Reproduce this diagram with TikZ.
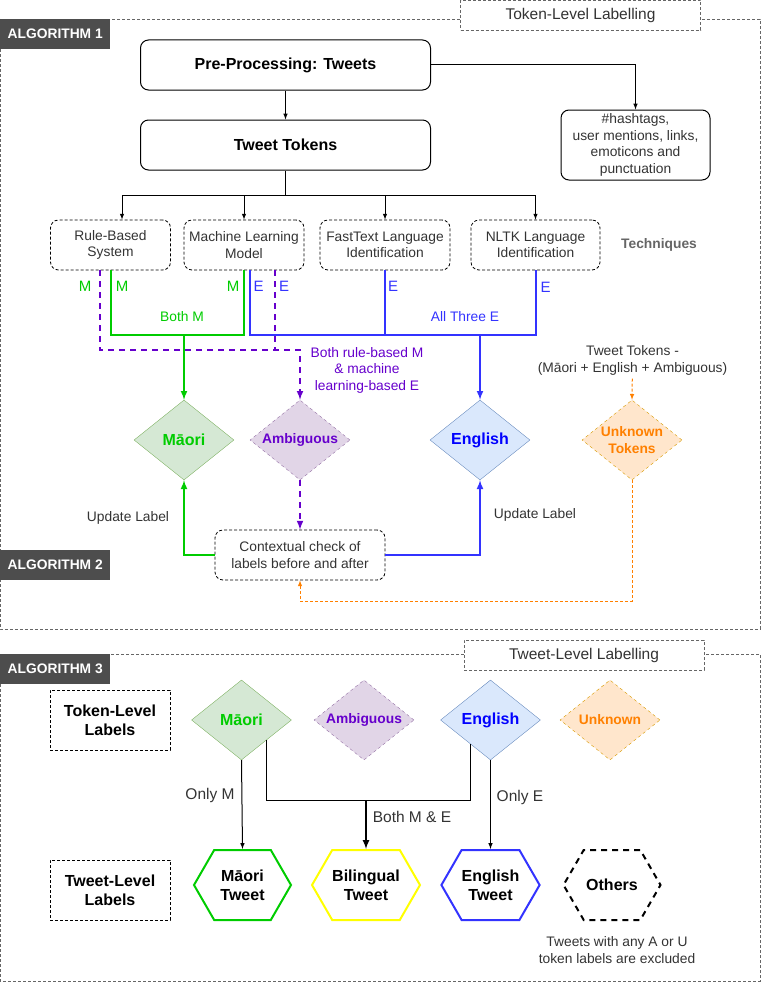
\documentclass[tikz,border=0pt]{standalone}
\usepackage{fontspec}
\setmainfont{Liberation Sans}
\usetikzlibrary{shapes.geometric,shapes.symbols,calc}
\definecolor{algogray}{HTML}{4D4D4D}
\definecolor{txtgray}{HTML}{333333}
\definecolor{framegray}{HTML}{666666}
\definecolor{mgreen}{HTML}{00CC00}
\definecolor{bblue}{HTML}{3333FF}
\definecolor{eblue}{HTML}{0000FF}
\definecolor{apurple}{HTML}{6600CC}
\definecolor{uorange}{HTML}{FF8000}
\definecolor{mfill}{HTML}{D5E8D4}
\definecolor{mdraw}{HTML}{82B366}
\definecolor{afill}{HTML}{E1D5E7}
\definecolor{adraw}{HTML}{9673A6}
\definecolor{efill}{HTML}{DAE8FC}
\definecolor{edraw}{HTML}{6C8EBF}
\definecolor{ufill}{HTML}{FFE6CC}
\definecolor{udraw}{HTML}{D79B00}
\definecolor{yline}{HTML}{FFFF00}
\tikzset{
  frame/.style={draw=framegray, dash pattern=on 3pt off 2pt, line width=0.8pt},
  titlebox/.style={draw=framegray, fill=white, dash pattern=on 3pt off 2pt, line width=0.8pt,
    minimum width=240pt, minimum height=30pt, font=\fontsize{15.5}{18}\selectfont},
  algo/.style={fill=algogray, text=white, anchor=north west, minimum width=110pt, minimum height=30pt,
    inner sep=0pt, font=\bfseries\fontsize{13.8}{16.5}\selectfont},
  proc/.style={draw, rounded corners=8pt, minimum width=290pt, minimum height=50pt, line width=1pt,
    text=black, font=\bfseries\fontsize{16}{19}\selectfont},
  tech/.style={draw, dash pattern=on 3pt off 2pt, rounded corners=8pt, minimum height=50pt, line width=0.8pt},
  lvlbox/.style={draw, dash pattern=on 3pt off 2pt, minimum width=120pt, minimum height=60pt, line width=0.8pt,
    text=black, font=\bfseries\fontsize{16}{19}\selectfont},
  cline/.style={draw=black, line width=1pt},
  gline/.style={draw=mgreen, line width=2pt},
  bline/.style={draw=bblue, line width=2pt},
  pline/.style={draw=apurple, line width=2pt, dash pattern=on 6pt off 5pt},
  oline/.style={draw=uorange, line width=1pt, dash pattern=on 3pt off 2pt},
  diam/.style={diamond, aspect=1.25, inner sep=0pt, minimum width=100pt, minimum height=80pt,
    font=\bfseries\fontsize{16}{19}\selectfont},
  mdiam/.style={diam, draw=mdraw, fill=mfill, text=mgreen},
  adiam/.style={diam, draw=adraw, fill=afill, text=apurple, dashed, font=\bfseries\fontsize{13.8}{16.5}\selectfont},
  ediam/.style={diam, draw=edraw, fill=efill, text=eblue},
  udiam/.style={diam, draw=udraw, fill=ufill, text=uorange, dashed, font=\bfseries\fontsize{13.8}{16.5}\selectfont},
  hexa/.style={signal, signal to=east and west, signal pointer angle=120, minimum width=97pt,
    minimum height=70pt, inner sep=0pt, line width=2pt, text=black, font=\bfseries\fontsize{16}{19}\selectfont}
}
\begin{document}
\begin{tikzpicture}[x=1pt,y=-1pt,>=latex,
  every node/.style={font=\fontsize{13.8}{16.5}\selectfont, text=txtgray, align=center}]
\useasboundingbox (0,0) rectangle (761,982);
\draw[frame] (0,19) rectangle (760,629);
\draw[frame] (0,654) rectangle (760,981);
\node[titlebox] (toklvl) at (580.5,15) {Token-Level Labelling};
\node[titlebox] (twlvl) at (584,655) {Tweet-Level Labelling};
\node[algo] (alg1) at (0,19) {ALGORITHM 1};
\node[algo] (alg2) at (0,550) {ALGORITHM 2};
\node[algo] (alg3) at (0,654) {ALGORITHM 3};

\node[proc] (pre) at (285.5,65) {Pre-Processing: Tweets};
\node[proc] (tok) at (285.5,145) {Tweet Tokens};
\node[draw, rounded corners=8pt, line width=1pt, minimum width=149pt, minimum height=70pt, inner sep=1pt] (hash) at (635.5,145) {\#hashtags,\\user mentions, links,\\emoticons and\\punctuation};
\node[tech, minimum width=120pt] (rbs) at (110.5,245) {Rule-Based\\System};
\node[tech, minimum width=120pt] (mlm) at (244,245) {Machine Learning\\Model};
\node[tech, minimum width=130pt] (ftl) at (385,245) {FastText Language\\Identification};
\node[tech, minimum width=129pt] (nltk) at (535.5,245) {NLTK Language\\Identification};
\node[text=framegray, font=\bfseries\fontsize{13.8}{16.5}\selectfont] (techs) at (659,245) {Techniques};

\draw[cline,->] (pre) -- (tok);
\draw[cline,->] (pre.east) -| (hash.north);
\coordinate (split) at (285.5,195);
\draw[cline] (tok) -- (split);
\draw[cline,->] (split) -| ([xshift=11.5pt]rbs.north);
\draw[cline,->] (split) -| (mlm.north);
\draw[cline,->] (split) -| (ftl.north);
\draw[cline,->] (split) -| (nltk.north);

\node[mdiam] (mao) at (184,440) {Māori};
\node[adiam] (amb) at (300,440) {Ambiguous};
\node[ediam] (eng) at (480,440) {English};
\node[udiam] (unk) at (632,440) {Unknown\\Tokens};

\coordinate (gbus) at (0,335);
\draw[gline] (rbs.south) -- (rbs.south|-gbus) -| (mlm.south);
\draw[gline,->] (mao.north|-gbus) -- (mao.north);
\draw[bline] ([xshift=6pt]mlm.south) -- ++(0,65) -| (nltk.south);
\draw[bline] (ftl.south) -- (ftl.south|-gbus);
\draw[bline,->] (eng.north|-gbus) -- (eng.north);
\draw[pline] ([xshift=31pt]mlm.south) -- ++(0,80);
\draw[pline,->] ([xshift=-10.5pt]rbs.south) -- ++(0,80) -| (amb.north);

\node[text=mgreen, font=\fontsize{15}{18}\selectfont] (m1) at (85,286) {M};
\node[text=mgreen, font=\fontsize{15}{18}\selectfont] (m2) at (122,286) {M};
\node[text=mgreen, font=\fontsize{15}{18}\selectfont] (m3) at (233,286) {M};
\node[text=bblue, font=\fontsize{15}{18}\selectfont] (e1) at (258.5,286) {E};
\node[text=bblue, font=\fontsize{15}{18}\selectfont] (e2) at (284,286) {E};
\node[text=bblue, font=\fontsize{15}{18}\selectfont] (e3) at (393,286) {E};
\node[text=bblue, font=\fontsize{15}{18}\selectfont] (e4) at (545.5,287) {E};
\node[text=mgreen] (bothm) at (182,317) {Both M};
\node[text=bblue] (all3) at (465,317) {All Three E};
\node[text=apurple] (bothme) at (367,370) {Both rule-based M\\\& machine\\learning-based E};
\node (ttok) at (632.5,360.5) {Tweet Tokens -\\(Māori + English + Ambiguous)};
\draw[oline,->] (ttok) -- (unk.north);

\node[tech, minimum width=170pt] (ctx) at (300,555) {Contextual check of\\labels before and after};
\node (upm) at (128,518) {Update Label};
\node (upe) at (535,515) {Update Label};
\draw[pline,->] (amb.south) -- (ctx.north);
\draw[gline,->] (ctx.west) -| (mao.south);
\draw[bline,->] (ctx.east) -| (eng.south);
\coordinate (obot) at (0,601);
\draw[oline,->] (unk.south) -- (unk.south|-obot) -| (ctx.south);

\node[lvlbox] (tll) at (110,720) {Token-Level\\Labels};
\node[lvlbox] (twl) at (110,890) {Tweet-Level\\Labels};
\node[mdiam] (mao2) at (241.5,720) {Māori};
\node[adiam] (amb2) at (364,720) {Ambiguous};
\node[ediam] (eng2) at (490.5,720) {English};
\node[udiam] (unk2) at (610,720) {Unknown};

\node[hexa, draw=mgreen] (mt) at (242.5,885) {Māori\\Tweet};
\node[hexa, draw=yline] (bt) at (366,885) {Bilingual\\Tweet};
\node[hexa, draw=bblue] (et) at (490.5,885) {English\\Tweet};
\node[hexa, draw=black, dash pattern=on 6pt off 5pt] (ot) at (612,885) {Others};
\node (excl) at (617,950) {Tweets with any A or U\\token labels are excluded};

\coordinate (bjoin) at (366,800);
\draw[cline,->] (mao2.south) -- (mt.north);
\draw[cline] (mao2.south east) -- (mao2.south east|-bjoin) -| ($(eng2.west)!0.6!(eng2.south)$);
\draw[cline,->,line width=2pt] (bjoin) -- (bt.north);
\draw[cline,->] (eng2.south) -- (et.north);
\node[font=\fontsize{15.5}{18}\selectfont] (onlym) at (210,795) {Only M};
\node[font=\fontsize{15.5}{18}\selectfont] (bothmne) at (412,817) {Both M \& E};
\node[font=\fontsize{15.5}{18}\selectfont] (onlye) at (520,797) {Only E};
\end{tikzpicture}
\end{document}
